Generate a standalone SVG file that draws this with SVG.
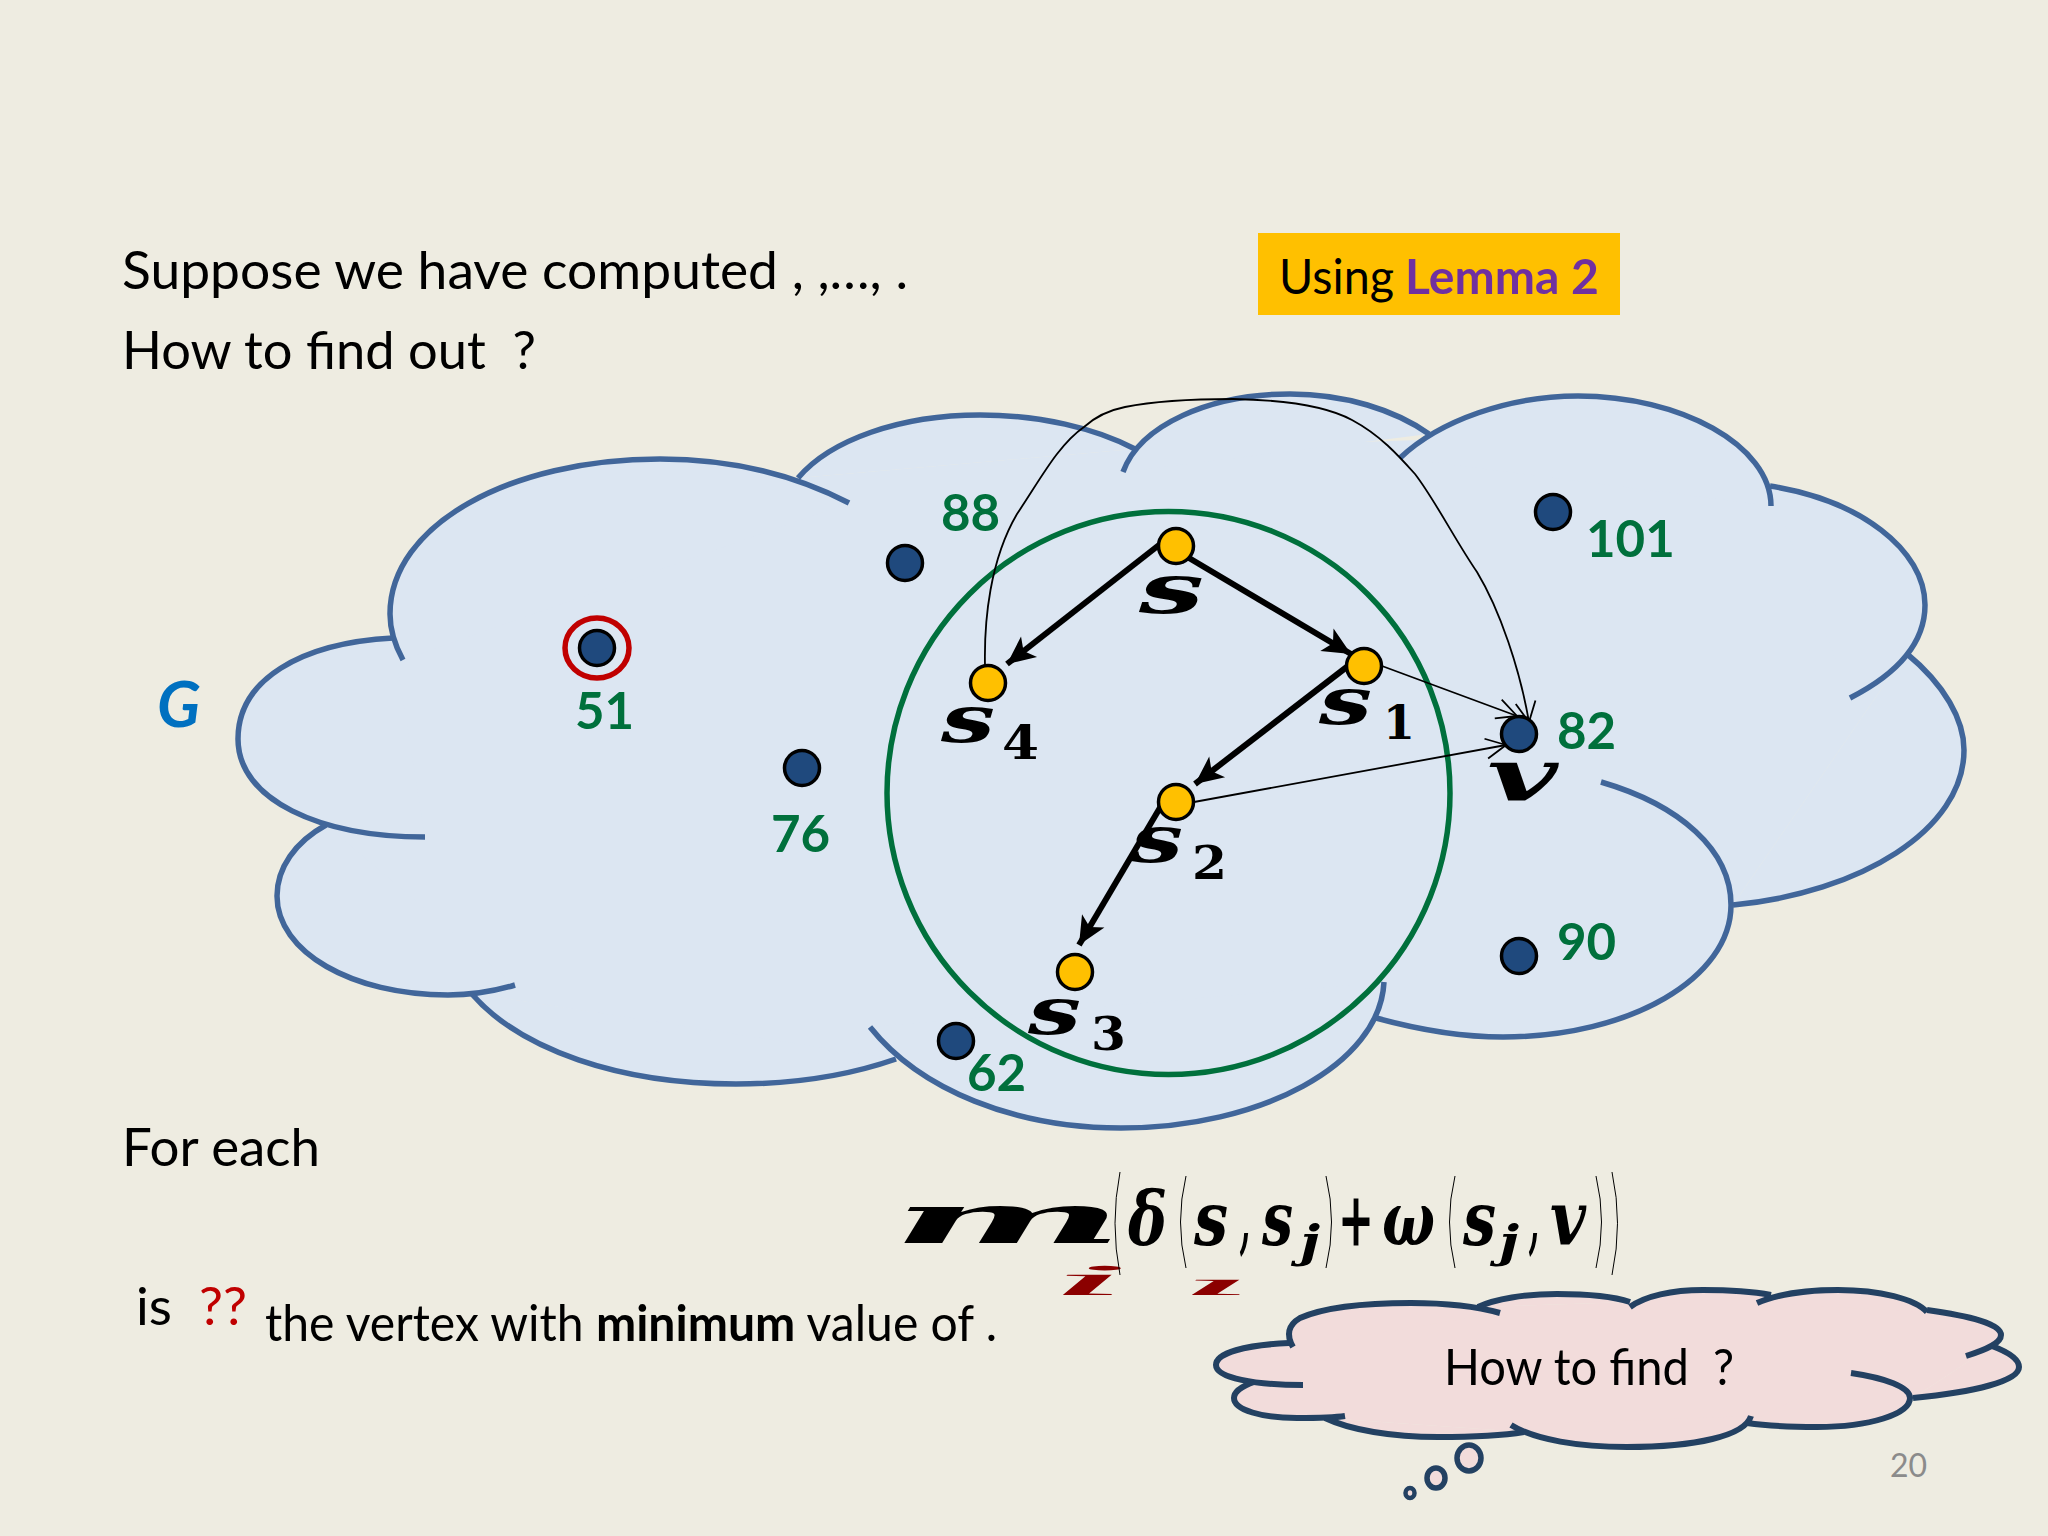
<svg xmlns="http://www.w3.org/2000/svg" width="2048" height="1536" viewBox="0 0 2048 1536">
<style>
.body{font-family:Lato,"Liberation Sans",sans-serif;font-size:53px;fill:#000}
.num{font-family:Lato,"Liberation Sans",sans-serif;font-size:51px;font-weight:700;fill:#00703C}
.glow{fill:#DCE6F2;stroke:none}
.glin{fill:none;stroke:#41669A;stroke-width:5.5}
.tfil{fill:#F2DCDB;stroke:none}
.tlin{fill:none;stroke:#234162;stroke-width:6}
.y{fill:#FFC000;stroke:#000;stroke-width:3.5}
.b{fill:#1F497D;stroke:#000;stroke-width:3.5}
.m{font-family:"DejaVu Serif",serif;font-style:italic;font-weight:700;fill:#000}
.d{font-family:"DejaVu Serif",serif;font-weight:700;fill:#000;font-size:46px}
.f{font-family:"DejaVu Serif Condensed","DejaVu Serif",serif;font-style:italic;font-weight:700;fill:#000;font-size:74px}
.r{font-family:"Liberation Serif",serif;font-style:italic;font-weight:400;fill:#8B0000}
.p{fill:none;stroke:#000;stroke-width:1}
.thick{fill:none;stroke:#000;stroke-width:6;marker-end:url(#stealth)}
.thin{fill:none;stroke:#000;stroke-width:1.8;marker-end:url(#open)}
</style>
<defs>
<marker id="stealth" markerUnits="userSpaceOnUse" markerWidth="34" markerHeight="34" refX="29" refY="15" orient="auto" viewBox="0 0 34 30"><path d="M29,15 L1,2 L8,15 L1,28 Z" fill="#000"/></marker>
<marker id="open" markerUnits="userSpaceOnUse" markerWidth="30" markerHeight="30" refX="26" refY="15" orient="auto" viewBox="0 0 30 30"><path d="M6,5 L26,15 L6,25" fill="none" stroke="#000" stroke-width="1.8"/></marker>
<path id="l1" d="M403,660 C392,640 390,625 390,614 C390,525 510,459 660,459 C730,459 795,475 849,503"/>
<path id="l2" d="M393,638 C300,643 238,680 238,739 C238,800 320,837 425,837"/>
<path id="l3" d="M326,825 C295,842 277,868 277,896 C277,952 352,995 448,995 C472,995 495,991 515,985"/>
<path id="l4" d="M471,993 C520,1050 620,1084 736,1084 C795,1084 850,1075 896,1059"/>
<path id="l5" d="M870,1027 C920,1090 1015,1128 1121,1128 C1260,1128 1380,1065 1384,982"/>
<path id="l6" d="M1376,1018 C1420,1030 1460,1037 1503,1037 C1630,1037 1731,978 1731,905 C1731,850 1680,805 1601,782"/>
<path id="l7" d="M1733,905 C1860,893 1964,830 1964,750 C1964,720 1945,685 1906,653"/>
<path id="l8" d="M1850,698 C1895,675 1925,645 1925,605 C1925,550 1860,500 1770,486"/>
<path id="l9" d="M1771,506 C1771,445 1680,396 1578,396 C1510,396 1440,420 1400,458"/>
<path id="l10" d="M1123,472 C1140,425 1210,394 1290,394 C1345,394 1395,410 1429,434"/>
<path id="l11" d="M798,478 C830,440 900,415 980,415 C1040,415 1095,428 1135,449"/>
<path id="t1" d="M1293,1347 C1286,1335 1288,1325 1300,1318 C1325,1307 1365,1303 1411,1303 C1445,1303 1475,1306 1500,1313"/>
<path id="t2" d="M1289,1343 C1245,1345 1216,1353 1216,1365 C1216,1378 1255,1385 1303,1385"/>
<path id="t3" d="M1254,1382 C1242,1386 1234,1392 1234,1398 C1234,1410 1262,1418 1297,1418 C1315,1418 1332,1418 1345,1416"/>
<path id="t4" d="M1325,1418 C1350,1430 1392,1437 1438,1437 C1470,1437 1500,1436 1524,1432"/>
<path id="t5" d="M1511,1425 C1535,1440 1580,1447 1627,1447 C1695,1447 1745,1436 1751,1416"/>
<path id="t6" d="M1747,1423 C1768,1426 1792,1427 1817,1427 C1870,1427 1910,1414 1910,1398 C1910,1387 1885,1378 1851,1373"/>
<path id="t7" d="M1913,1398 C1975,1392 2019,1381 2019,1367 C2019,1359 2008,1352 1992,1346"/>
<path id="t8" d="M1966,1356 C1988,1349 2001,1343 2001,1335 C2001,1324 1970,1316 1927,1310"/>
<path id="t9" d="M1927,1312 C1915,1299 1880,1290 1838,1290 C1805,1290 1775,1295 1757,1303"/>
<path id="t10" d="M1630,1307 C1645,1296 1672,1290 1703,1290 C1730,1290 1755,1292 1771,1295"/>
<path id="t11" d="M1478,1307 C1495,1299 1525,1294 1557,1294 C1590,1294 1615,1297 1630,1302"/>
</defs>
<rect width="2048" height="1536" fill="#EEECE1"/>

<g id="graph-cloud">
<polygon class="glow" points="393,638 798,478 1135,449 1420,440 1770,486 1906,653 1733,905 1376,1018 890,1060 471,993 326,825"/>
<use href="#l1" class="glow"/><use href="#l2" class="glow"/><use href="#l3" class="glow"/><use href="#l4" class="glow"/><use href="#l5" class="glow"/><use href="#l6" class="glow"/><use href="#l7" class="glow"/><use href="#l8" class="glow"/><use href="#l9" class="glow"/><use href="#l10" class="glow"/><use href="#l11" class="glow"/>
<use href="#l1" class="glin"/><use href="#l2" class="glin"/><use href="#l3" class="glin"/><use href="#l4" class="glin"/><use href="#l5" class="glin"/><use href="#l6" class="glin"/><use href="#l7" class="glin"/><use href="#l8" class="glin"/><use href="#l9" class="glin"/><use href="#l10" class="glin"/><use href="#l11" class="glin"/>
</g>
<circle id="ball" cx="1168.5" cy="793" r="281.5" fill="none" stroke="#00703C" stroke-width="5.5"/>

<g id="connectors">
<path class="thick" d="M1159,545 L1007,664"/>
<path class="thick" d="M1189,558 L1351,654"/>
<path class="thick" d="M1348,666 L1195,784"/>
<path class="thick" d="M1161,806 L1079,945"/>
<path class="thin" d="M1382,666 L1517,716"/>
<path class="thin" d="M1194,802 L1506,745"/>
<path class="thin" d="M985,666 C984,620 990,560 1017,514 C1040,480 1058,445 1084,427 C1095,417 1110,410 1125,407 C1160,400 1200,399 1233,399 C1290,400 1330,408 1352,420 C1380,435 1398,455 1415,474 C1435,500 1455,540 1477,572 C1500,610 1520,670 1529,722"/>
</g>

<g id="node-s"><circle class="y" cx="1176" cy="546" r="17.5"/><text class="m" x="1139" y="613" font-size="70" textLength="65" lengthAdjust="spacingAndGlyphs">s</text></g>
<g id="node-s1"><circle class="y" cx="1364" cy="666" r="17.5"/><text class="m" x="1319" y="724" font-size="66" textLength="53" lengthAdjust="spacingAndGlyphs">s</text><text class="d" x="1383" y="739" textLength="32" lengthAdjust="spacingAndGlyphs">1</text></g>
<g id="node-s2"><circle class="y" cx="1176" cy="802" r="17.5"/><text class="m" x="1131" y="862" font-size="66" textLength="52" lengthAdjust="spacingAndGlyphs">s</text><text class="d" x="1192" y="879" textLength="35" lengthAdjust="spacingAndGlyphs">2</text></g>
<g id="node-s3"><circle class="y" cx="1075" cy="972" r="17.5"/><text class="m" x="1028" y="1034" font-size="66" textLength="53" lengthAdjust="spacingAndGlyphs">s</text><text class="d" x="1091" y="1050" textLength="35" lengthAdjust="spacingAndGlyphs">3</text></g>
<g id="node-s4"><circle class="y" cx="988" cy="683" r="17.5"/><text class="m" x="941" y="742" font-size="66" textLength="54" lengthAdjust="spacingAndGlyphs">s</text><text class="d" x="1002" y="759" textLength="37" lengthAdjust="spacingAndGlyphs">4</text></g>
<g id="node-v"><circle class="b" cx="1519" cy="734" r="17.5"/><text class="m" x="1487" y="801" font-size="72" textLength="71" lengthAdjust="spacingAndGlyphs">v</text><text class="num" x="1557" y="749">82</text></g>
<g id="node-51"><circle class="b" cx="597" cy="648" r="17.5"/><ellipse cx="597" cy="648" rx="32" ry="30" fill="none" stroke="#C00000" stroke-width="5.5"/><text class="num" x="575" y="729">51</text></g>
<g id="node-76"><circle class="b" cx="802" cy="768" r="17.5"/><text class="num" x="771" y="852">76</text></g>
<g id="node-88"><circle class="b" cx="905" cy="563" r="17.5"/><text class="num" x="941" y="531">88</text></g>
<g id="node-101"><circle class="b" cx="1553" cy="512" r="17.5"/><text class="num" x="1586" y="557">101</text></g>
<g id="node-90"><circle class="b" cx="1519" cy="956" r="17.5"/><text class="num" x="1557" y="960">90</text></g>
<g id="node-62"><circle class="b" cx="956" cy="1041" r="17.5"/><text class="num" x="967" y="1091">62</text></g>

<text x="157" y="727" font-family="Lato,'Liberation Sans',sans-serif" font-size="64" font-weight="700" font-style="italic" fill="#0070C0">G</text>

<text class="body" x="122" y="289" textLength="786" lengthAdjust="spacingAndGlyphs" xml:space="preserve">Suppose we have computed , ,…, .</text>
<text class="body" x="122" y="369" textLength="414" lengthAdjust="spacingAndGlyphs" xml:space="preserve">How to find out  ?</text>

<g id="using">
<rect x="1258" y="233" width="362" height="82" fill="#FFC000"/>
<text class="body" x="1279" y="294" style="font-size:48px" textLength="115" lengthAdjust="spacingAndGlyphs">Using</text>
<text class="body" x="1405" y="294" style="font-size:48px;font-weight:700;fill:#7030A0" textLength="194" lengthAdjust="spacingAndGlyphs">Lemma 2</text>
</g>

<text class="body" x="122" y="1166" textLength="198" lengthAdjust="spacingAndGlyphs">For each</text>
<text class="body" x="136" y="1325" textLength="36" lengthAdjust="spacingAndGlyphs">is</text>
<text class="body" x="199" y="1325" style="fill:#C00000" textLength="48" lengthAdjust="spacingAndGlyphs">??</text>
<text class="body" x="265" y="1341" style="font-size:50px" textLength="732" lengthAdjust="spacingAndGlyphs">the vertex with <tspan font-weight="700">minimum</tspan> value of .</text>

<g id="formula">
<text class="m" x="892" y="1243" font-size="70" textLength="232" lengthAdjust="spacingAndGlyphs">m</text>
<text class="r" x="1046" y="1295" font-size="44" textLength="84" lengthAdjust="spacingAndGlyphs">i</text>
<text class="r" x="1176" y="1295" font-size="33" textLength="82" lengthAdjust="spacingAndGlyphs">ı</text>
<text class="f" x="1128" y="1245" textLength="39" lengthAdjust="spacingAndGlyphs">δ</text>
<path class="p" d="M1120,1172 Q1110,1223 1120,1275"/>
<path class="p" d="M1186,1176 Q1175,1222 1186,1268"/>
<text class="f" x="1194" y="1245" textLength="34" lengthAdjust="spacingAndGlyphs">s</text>
<text class="f" x="1240" y="1245" textLength="10" lengthAdjust="spacingAndGlyphs">,</text>
<text class="f" x="1262" y="1245" textLength="31" lengthAdjust="spacingAndGlyphs">s</text>
<text class="f" style="font-size:44px" x="1300" y="1257" textLength="20" lengthAdjust="spacingAndGlyphs">j</text>
<path class="p" d="M1326,1176 Q1337,1222 1326,1268"/>
<text class="f" style="font-style:normal" x="1338" y="1245" textLength="36" lengthAdjust="spacingAndGlyphs">+</text>
<text class="f" x="1382" y="1245" textLength="53" lengthAdjust="spacingAndGlyphs">ω</text>
<path class="p" d="M1455,1176 Q1444,1222 1455,1268"/>
<text class="f" x="1463" y="1245" textLength="33" lengthAdjust="spacingAndGlyphs">s</text>
<text class="f" style="font-size:44px" x="1499" y="1257" textLength="20" lengthAdjust="spacingAndGlyphs">j</text>
<text class="f" x="1529" y="1245" textLength="10" lengthAdjust="spacingAndGlyphs">,</text>
<text class="f" x="1550" y="1245" textLength="36" lengthAdjust="spacingAndGlyphs">v</text>
<path class="p" d="M1596,1176 Q1607,1222 1596,1268"/>
<path class="p" d="M1612,1172 Q1623,1223 1612,1275"/>
</g>

<g id="thought">
<polygon class="tfil" points="1289,1343 1478,1307 1630,1302 1771,1295 1927,1310 1992,1346 1913,1398 1751,1423 1524,1432 1325,1418 1254,1382"/>
<use href="#t1" class="tfil"/><use href="#t2" class="tfil"/><use href="#t3" class="tfil"/><use href="#t4" class="tfil"/><use href="#t5" class="tfil"/><use href="#t6" class="tfil"/><use href="#t7" class="tfil"/><use href="#t8" class="tfil"/><use href="#t9" class="tfil"/><use href="#t10" class="tfil"/><use href="#t11" class="tfil"/>
<use href="#t1" class="tlin"/><use href="#t2" class="tlin"/><use href="#t3" class="tlin"/><use href="#t4" class="tlin"/><use href="#t5" class="tlin"/><use href="#t6" class="tlin"/><use href="#t7" class="tlin"/><use href="#t8" class="tlin"/><use href="#t9" class="tlin"/><use href="#t10" class="tlin"/><use href="#t11" class="tlin"/>
<ellipse cx="1469" cy="1458" rx="12" ry="13" fill="#F2DCDB" stroke="#234162" stroke-width="5.5"/>
<ellipse cx="1436" cy="1478" rx="9" ry="10" fill="#F2DCDB" stroke="#234162" stroke-width="5.5"/>
<ellipse cx="1410" cy="1493" rx="4.5" ry="5" fill="#F2DCDB" stroke="#234162" stroke-width="4.5"/>
<text class="body" x="1444" y="1385" style="font-size:50px" textLength="290" lengthAdjust="spacingAndGlyphs" xml:space="preserve">How to find  ?</text>
</g>

<text x="1890" y="1477" font-family="Lato,'Liberation Sans',sans-serif" font-size="32" fill="#8B8B8B">20</text>
</svg>
